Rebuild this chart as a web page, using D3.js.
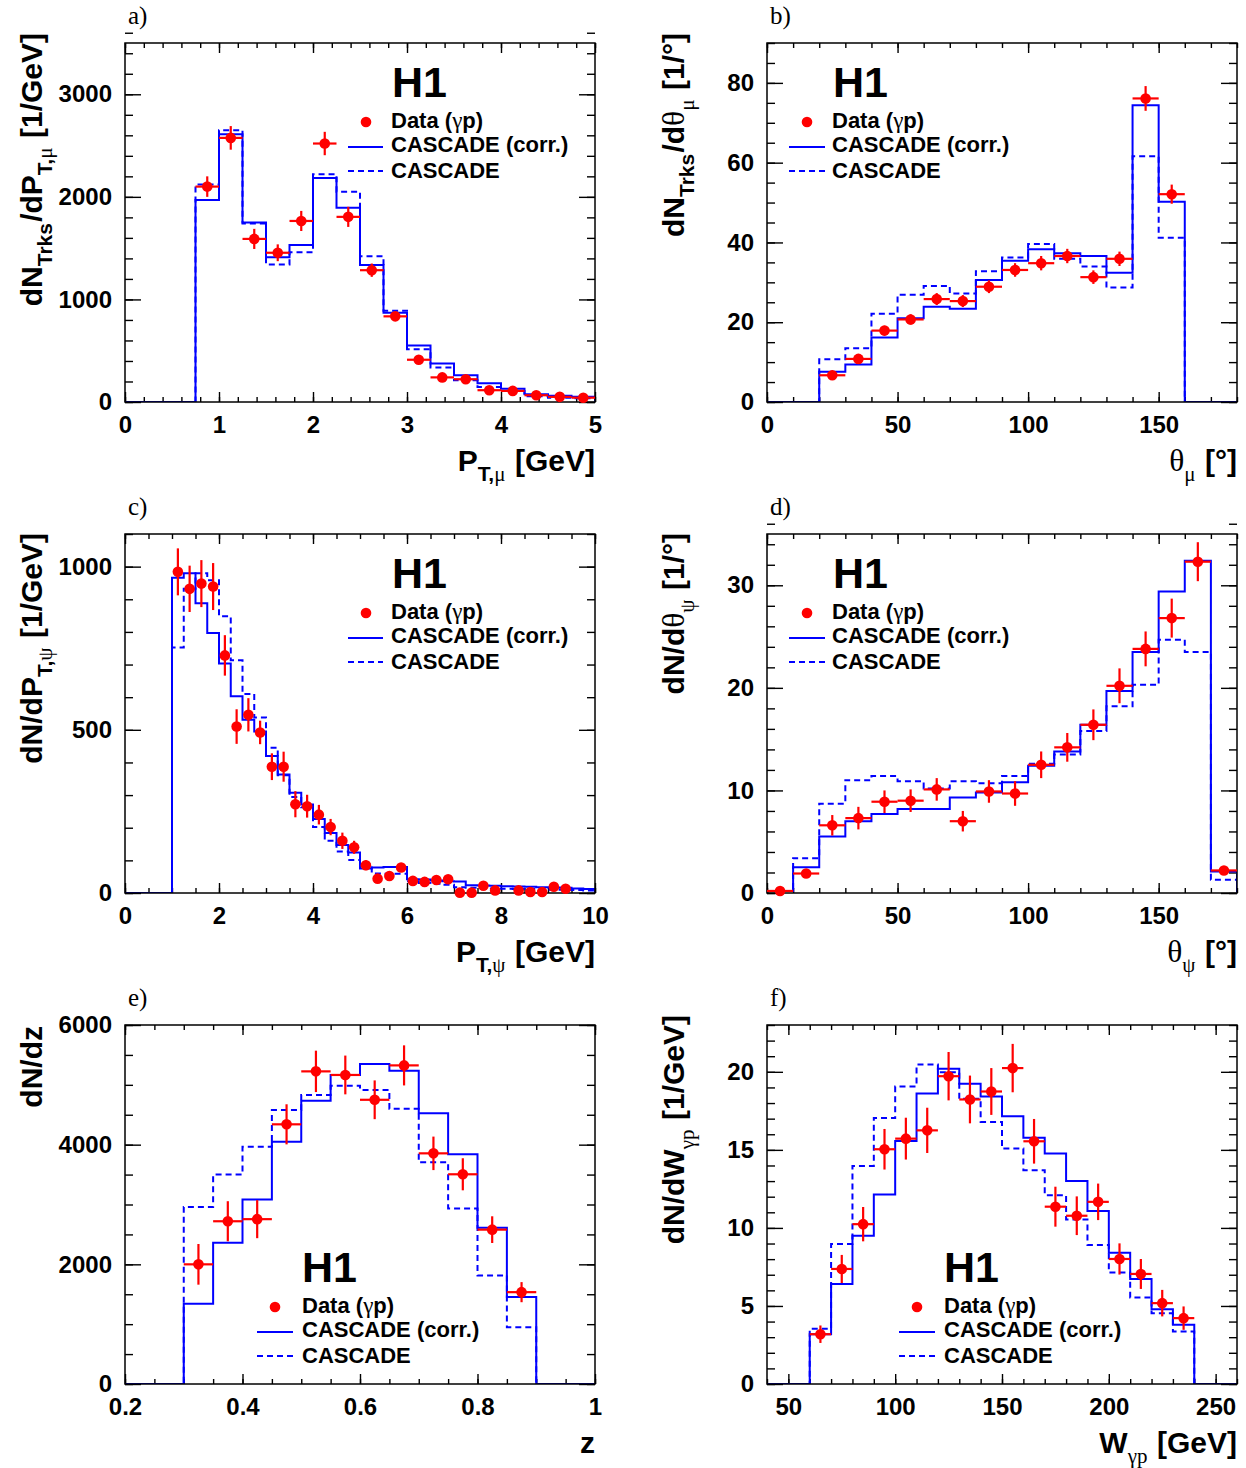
<!DOCTYPE html>
<html><head><meta charset="utf-8">
<script src="https://cdn.jsdelivr.net/npm/d3@7"></script>
<style>body{margin:0;background:#fff}</style>
</head><body>
<svg id="c" width="1246" height="1468"></svg>
<script>
// ---------- DATA ----------
// a) PT,mu
const ptmuEdges = [0.75,1,1.25,1.5,1.75,2,2.25,2.5,2.75,3,3.25,3.5,3.75,4,4.25,4.5,4.75,5];
const ptmuCorr  = [1970,2610,1750,1410,1530,2185,1895,1335,870,550,375,262,183,130,76,60,50];
const ptmuCasc  = [2120,2650,1740,1340,1460,2220,2050,1420,890,515,337,212,147,108,56,42,36];
const ptmuData  = [2100,2575,1590,1455,1765,2520,1805,1285,835,412,240,222,115,108,66,50,42];
const ptmuErr   = [100,115,98,82,98,114,98,65,40,25,20,20,15,15,12,10,10];
const ptmuXTicks = [0,1,2,3,4,5];
const ptmuYTicks = [0,1000,2000,3000];

// b) theta mu
const thmuEdges = [20,30,40,50,60,70,80,90,100,110,120,130,140,150,160];
const thmuCorr  = [7.6,9.4,16.2,21.0,23.9,23.4,30.6,35.4,38.3,37.3,36.6,32.4,74.4,50.2];
const thmuCasc  = [10.7,13.5,22.1,26.9,29.1,27.2,32.8,36.2,39.6,35.9,34.0,28.7,61.6,41.2];
const thmuData  = [6.7,10.8,17.9,20.7,25.8,25.3,28.9,33.1,34.8,36.6,31.3,35.9,76.1,52.1];
const thmuErr   = [0.8,1.0,1.2,1.3,1.5,1.5,1.6,1.7,1.8,1.8,1.7,1.8,3.1,2.4];
const thmuXTicks = [0,50,100,150];
const thmuYTicks = [0,20,40,60,80];

// c) PT,psi
const ptpsiEdges = [1,1.25,1.5,1.75,2,2.25,2.5,2.75,3,3.25,3.5,3.75,4,4.25,4.5,4.75,5,5.25,5.5,5.75,6,6.25,6.5,6.75,7,7.25,7.5,7.75,8,8.25,8.5,8.75,9,9.25,9.5,9.75,10];
const ptpsiCorr  = [966,980,888,797,703,603,531,495,420,363,307,271,227,184,147,124,75,78,80,80,42,41,38,36,35,24,23,22,21,20,19,18,17,16,14,12];
const ptpsiCasc  = [752,932,980,958,848,713,610,538,445,361,294,263,202,160,127,101,89,60,59,59,36,31,28,25,18,16,15,14,13,12,12,11,10,10,9,8];
const ptpsiDataX = [1.125,1.375,1.625,1.875,2.125,2.375,2.625,2.875,3.125,3.375,3.625,3.875,4.125,4.375,4.625,4.875,5.125,5.375,5.625,5.875,6.125,6.375,6.625,6.875,7.125,7.375,7.625,7.875,8.375,8.625,8.875,9.125,9.375];
const ptpsiData  = [984,932,948,939,728,510,546,492,387,387,272,266,240,202,160,140,85,44,52,78,37,34,40,42,1,1,22,8,8,3,3,19,13];
const ptpsiErr   = [72,71,72,72,62,53,51,36,41,46,40,35,30,25,25,20,15,10,10,10,8,8,8,8,4,4,6,4,4,3,3,5,5];
const ptpsiXTicks = [0,2,4,6,8,10];
const ptpsiYTicks = [0,500,1000];

// d) theta psi
const thpsiEdges = [0,10,20,30,40,50,60,70,80,90,100,110,120,130,140,150,160,170,180];
const thpsiCorr  = [0.2,2.5,5.5,7.0,7.7,8.2,8.2,9.3,9.8,10.8,12.4,13.8,16.4,19.7,23.5,29.4,32.4,2.1];
const thpsiCasc  = [0.2,3.4,8.7,11.0,11.4,10.9,10.2,10.9,10.7,11.4,12.6,13.5,15.8,18.2,20.3,24.7,23.5,1.3];
const thpsiData  = [0.2,1.9,6.6,7.3,8.9,9.0,10.1,7.0,9.9,9.7,12.5,14.2,16.4,20.2,23.8,26.8,32.3,2.2];
const thpsiErr   = [0.1,0.4,1.0,1.1,1.1,1.1,1.1,1.0,1.1,1.2,1.3,1.4,1.5,1.7,1.7,1.9,1.9,0.3];
const thpsiXTicks = [0,50,100,150];
const thpsiYTicks = [0,10,20,30];

// e) z
const zEdges = [0.3,0.35,0.4,0.45,0.5,0.55,0.6,0.65,0.7,0.75,0.8,0.85,0.9];
const zCorr  = [1340,2360,3085,4050,4735,5165,5350,5235,4525,3840,2610,1455];
const zCasc  = [2960,3500,3965,4580,4830,4985,4915,4600,3705,2935,1815,950];
const zData  = [2000,2720,2755,4340,5225,5165,4750,5325,3855,3505,2580,1535];
const zErr   = [340,335,318,335,346,324,324,335,280,268,223,168];
const zXTicks = [0.2,0.4,0.6,0.8,1];
const zYTicks = [0,2000,4000,6000];

// f) W gamma p
const wEdges = [60,70,80,90,100,110,120,130,140,150,160,170,180,190,200,210,220,230,240];
const wCorr  = [3.19,6.41,9.50,12.14,15.57,18.61,20.19,19.23,18.42,17.15,15.78,14.76,13.01,11.08,8.41,6.73,4.79,3.79];
const wCasc  = [3.54,8.97,13.97,17.04,19.06,20.47,19.98,18.27,16.79,15.08,13.69,12.10,10.54,8.90,7.14,5.54,4.54,3.37];
const wData  = [3.19,7.37,10.24,15.04,15.72,16.25,19.72,18.23,18.74,20.24,15.55,11.36,10.78,11.67,8.01,7.05,5.18,4.22];
const wErr   = [0.56,0.9,1.1,1.3,1.34,1.45,1.55,1.53,1.5,1.55,1.43,1.28,1.24,1.17,1.0,0.96,0.85,0.75];
const wXTicks = [50,100,150,200,250];
const wYTicks = [0,5,10,15,20];

const legendLabels = [[["Data ("],["γ","g"],["p)"]], [["CASCADE (corr.)"]], [["CASCADE"]]];

// ---------- LAYOUT ----------
const FONT = "'Liberation Sans', Arial, Helvetica, sans-serif";
const SERIF = "'Liberation Serif', 'DejaVu Serif', serif";
const PW = 470, PH = 359;
const BLUE = "#0000ff", RED = "#ff0000";

const mids = e => e.slice(0,-1).map((v,i)=>(v+e[i+1])/2);

const panels = [
 {lab:"a)", L:125, T:43, xd:[0,5], yd:[0,3500], xMaj:ptmuXTicks, xMin:0.2, yMaj:ptmuYTicks, yMin:200,
  edges:ptmuEdges, corr:ptmuCorr, casc:ptmuCasc, dx:mids(ptmuEdges), dy:ptmuData, de:ptmuErr, hbar:true, leg:"tr",
  yt:[["dN"],["Trks","s"],["/dP"],["T,","s"],["μ","sg"],[" [1/GeV]"]], ytOff:-10,
  xt:[["P"],["T,","s"],["μ","sg"],[" [GeV]"]]},
 {lab:"b)", L:767, T:43, xd:[0,180], yd:[0,90], xMaj:thmuXTicks, xMin:10, yMaj:thmuYTicks, yMin:5,
  edges:thmuEdges, corr:thmuCorr, casc:thmuCasc, dx:mids(thmuEdges), dy:thmuData, de:thmuErr, hbar:true, leg:"tl",
  yt:[["dN"],["Trks","s"],["/d"],["θ","g"],["μ","sg"],["  [1/°]"]], ytOff:-10,
  xt:[["θ","g"],["μ","sg"],[" [°]"]]},
 {lab:"c)", L:125, T:534, xd:[0,10], yd:[0,1100], xMaj:ptpsiXTicks, xMin:0.5, yMaj:ptpsiYTicks, yMin:100,
  edges:ptpsiEdges, corr:ptpsiCorr, casc:ptpsiCasc, dx:ptpsiDataX, dy:ptpsiData, de:ptpsiErr, hbar:false, leg:"tr",
  yt:[["dN/dP"],["T,","s"],["ψ","sg"],[" [1/GeV]"]], ytOff:-1,
  xt:[["P"],["T,","s"],["ψ","sg"],[" [GeV]"]]},
 {lab:"d)", L:767, T:534, xd:[0,180], yd:[0,35], xMaj:thpsiXTicks, xMin:10, yMaj:thpsiYTicks, yMin:2,
  edges:thpsiEdges, corr:thpsiCorr, casc:thpsiCasc, dx:mids(thpsiEdges), dy:thpsiData, de:thpsiErr, hbar:true, leg:"tl",
  yt:[["dN/d"],["θ","g"],["ψ","sg"],["  [1/°]"]], ytOff:-1,
  xt:[["θ","g"],["ψ","sg"],[" [°]"]]},
 {lab:"e)", L:125, T:1025, xd:[0.2,1], yd:[0,6000], xMaj:zXTicks, xMin:0.05, yMaj:zYTicks, yMin:500,
  edges:zEdges, corr:zCorr, casc:zCasc, dx:mids(zEdges), dy:zData, de:zErr, hbar:true, leg:"bl",
  yt:[["dN/dz"]], ytOff:1,
  xt:[["z"]]},
 {lab:"f)", L:767, T:1025, xd:[40,260], yd:[0,23], xMaj:wXTicks, xMin:10, yMaj:wYTicks, yMin:1,
  edges:wEdges, corr:wCorr, casc:wCasc, dx:mids(wEdges), dy:wData, de:wErr, hbar:true, leg:"bl",
  yt:[["dN/dW"],["γp","sg"],[" [1/GeV]"]], ytOff:-10,
  xt:[["W"],["γp","sg"],[" [GeV]"]]}
];

const svg = d3.select("#c");
svg.append("rect").attr("width",1246).attr("height",1468).attr("fill","#fff");

function rich(sel, segs, size){
  let shift = 0;
  segs.forEach(([txt,type],k)=>{
    const sub = !!type && type.includes("s");
    const greek = !!type && type.includes("g");
    const target = sub ? size*0.32 : 0;
    const ts = sel.append("tspan").text(txt)
      .attr("dy", (target-shift).toFixed(2))
      .attr("font-size", sub ? size*0.7 : (greek ? size*1.05 : size));
    if (shift>0 && !sub) ts.attr("dx", size*0.04);
    if (greek) ts.attr("font-family", SERIF).attr("font-weight","normal");
    shift = target;
  });
}

function minors(d, step){
  const n = Math.round((d[1]-d[0])/step);
  const out = [];
  for (let i=0;i<=n;i++) out.push(+(d[0]+i*step).toFixed(6));
  return out;
}

panels.forEach((p,pi)=>{
  const B = p.T+PH, R = p.L+PW;
  const x = d3.scaleLinear().domain(p.xd).range([p.L,R]);
  const y = d3.scaleLinear().domain(p.yd).range([B,p.T]);
  const g = svg.append("g");
  const clipId = "clip"+pi;
  svg.append("clipPath").attr("id",clipId).append("rect")
    .attr("x",p.L).attr("y",p.T).attr("width",PW).attr("height",PH);

  const styleAx = sel => { sel.select(".domain").remove();
    sel.selectAll("line").attr("stroke","#000").attr("stroke-width",1.4);
    sel.selectAll("text").attr("font-family",FONT).attr("font-weight","bold").attr("font-size",24).attr("fill","#000"); };
  const fmt = d => String(d);
  g.append("g").attr("transform",`translate(0,${B})`)
    .call(d3.axisBottom(x).tickValues(minors(p.xd,p.xMin)).tickSize(-5).tickFormat("")).call(styleAx);
  g.append("g").attr("transform",`translate(0,${B})`)
    .call(d3.axisBottom(x).tickValues(p.xMaj).tickSize(-10).tickPadding(14).tickFormat(fmt)).call(styleAx);
  g.append("g").attr("transform",`translate(0,${p.T})`)
    .call(d3.axisTop(x).tickValues(minors(p.xd,p.xMin)).tickSize(-5).tickFormat("")).call(styleAx);
  g.append("g").attr("transform",`translate(0,${p.T})`)
    .call(d3.axisTop(x).tickValues(p.xMaj).tickSize(-10).tickFormat("")).call(styleAx);
  g.append("g").attr("transform",`translate(${p.L},0)`)
    .call(d3.axisLeft(y).tickValues(minors(p.yd,p.yMin)).tickSize(-8).tickFormat("")).call(styleAx);
  g.append("g").attr("transform",`translate(${p.L},0)`)
    .call(d3.axisLeft(y).tickValues(p.yMaj).tickSize(-16).tickPadding(13).tickFormat(fmt)).call(styleAx);
  g.append("g").attr("transform",`translate(${R},0)`)
    .call(d3.axisRight(y).tickValues(minors(p.yd,p.yMin)).tickSize(-8).tickFormat("")).call(styleAx);
  g.append("g").attr("transform",`translate(${R},0)`)
    .call(d3.axisRight(y).tickValues(p.yMaj).tickSize(-16).tickFormat("")).call(styleAx);

  const line = d3.line().x(d=>x(d[0])).y(d=>y(d[1]));
  const stepPts = vals => {
    const pts = [[p.xd[0],0],[p.edges[0],0]];
    vals.forEach((v,i)=>{ pts.push([p.edges[i],v]); pts.push([p.edges[i+1],v]); });
    pts.push([p.edges[p.edges.length-1],0]); pts.push([p.xd[1],0]);
    return pts;
  };
  const hg = g.append("g").attr("clip-path",`url(#${clipId})`);
  hg.append("path").attr("d",line(stepPts(p.casc))).attr("fill","none")
    .attr("stroke",BLUE).attr("stroke-width",2).attr("stroke-dasharray","6,4");
  hg.append("path").attr("d",line(stepPts(p.corr))).attr("fill","none")
    .attr("stroke",BLUE).attr("stroke-width",2);

  g.append("rect").attr("x",p.L).attr("y",p.T).attr("width",PW).attr("height",PH)
    .attr("fill","none").attr("stroke","#000").attr("stroke-width",1.5);

  const pts = p.dy.map((v,i)=>({x:p.dx[i], v, e:p.de[i]}));
  const binHalf = p.edges[1]-p.edges[0];
  const dg = g.append("g");
  dg.selectAll(".ev").data(pts).join("line")
    .attr("x1",d=>x(d.x)).attr("x2",d=>x(d.x))
    .attr("y1",d=>y(Math.max(d.v-d.e,p.yd[0]))).attr("y2",d=>y(d.v+d.e))
    .attr("stroke",RED).attr("stroke-width",2.2);
  if (p.hbar) dg.selectAll(".eh").data(pts).join("line")
    .attr("x1",d=>x(d.x-binHalf/2)).attr("x2",d=>x(d.x+binHalf/2))
    .attr("y1",d=>y(d.v)).attr("y2",d=>y(d.v))
    .attr("stroke",RED).attr("stroke-width",2.2);
  dg.selectAll("circle").data(pts).join("circle")
    .attr("cx",d=>x(d.x)).attr("cy",d=>y(d.v)).attr("r",5.3).attr("fill",RED);

  let H1x, H1y, tx, dotx, l1, l2, base;
  if (p.leg==="tr"){ H1x=p.L+267; H1y=p.T+54; tx=p.L+266; dotx=p.L+241; l1=p.L+223; l2=p.L+258; base=p.T+85; }
  else if (p.leg==="tl"){ H1x=p.L+66; H1y=p.T+54; tx=p.L+65; dotx=p.L+40; l1=p.L+22; l2=p.L+58; base=p.T+85; }
  else { H1x=p.L+177; H1y=p.T+257; tx=p.L+177; dotx=p.L+150; l1=p.L+132; l2=p.L+168; base=p.T+288; }
  g.append("text").attr("x",H1x).attr("y",H1y).attr("font-family",FONT).attr("font-weight","bold")
    .attr("font-size",43).text("H1");
  const rows = [base, base+24, base+50];
  legendLabels.forEach((segs,i)=>{
    const t = g.append("text").attr("x",tx).attr("y",rows[i]).attr("font-family",FONT)
      .attr("font-weight","bold").attr("font-size",22);
    segs.forEach(([txt,type])=>{
      const ts = t.append("tspan").text(txt);
      if (type==="g") ts.attr("font-family",SERIF).attr("font-weight","normal").attr("font-size",23);
    });
  });
  g.append("circle").attr("cx",dotx).attr("cy",rows[0]-6).attr("r",5.3).attr("fill",RED);
  g.append("line").attr("x1",l1).attr("x2",l2).attr("y1",rows[1]-5).attr("y2",rows[1]-5)
    .attr("stroke",BLUE).attr("stroke-width",2);
  g.append("line").attr("x1",l1).attr("x2",l2).attr("y1",rows[2]-7).attr("y2",rows[2]-7)
    .attr("stroke",BLUE).attr("stroke-width",2).attr("stroke-dasharray","6,4");

  g.append("text").attr("x",p.L+3).attr("y",p.T-19).attr("font-family",SERIF)
    .attr("font-size",25).text(p.lab);

  const xt = g.append("text").attr("x",R).attr("y",B+69).attr("text-anchor","end")
    .attr("font-family",FONT).attr("font-weight","bold").attr("font-size",30);
  rich(xt, p.xt, 30);
  const yt = g.append("text").attr("transform",`translate(${p.L-83},${p.T+p.ytOff}) rotate(-90)`)
    .attr("text-anchor","end").attr("font-family",FONT).attr("font-weight","bold").attr("font-size",30);
  rich(yt, p.yt, 30);
});
</script>
</body></html>
